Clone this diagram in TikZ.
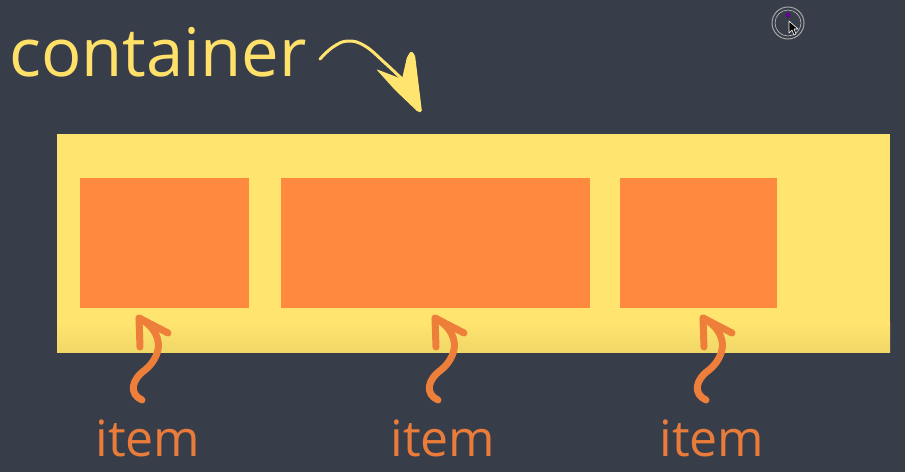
\documentclass[tikz,border=0pt]{standalone}
\usepackage{fontspec}
\setmainfont{Open Sans}
\definecolor{bgc}{HTML}{383D4A}
\definecolor{ylw}{HTML}{FFE46F}
\definecolor{ylwdark}{HTML}{F0D767}
\definecolor{org}{HTML}{FF8A3F}
\definecolor{orgline}{HTML}{EE7F3B}
\definecolor{orgtext}{HTML}{E97C3A}
\definecolor{ylwtext}{HTML}{FFE16A}
\tikzset{
  itembox/.style={fill=org, inner sep=0pt, minimum height=130pt},
  contbox/.style={fill=ylw, inner sep=0pt, minimum width=833pt, minimum height=218pt},
  itemlabel/.style={text=orgtext, font=\fontsize{50}{50}\selectfont, anchor=base, inner sep=0pt},
  contlabel/.style={text=ylwtext, font=\fontsize{67}{67}\selectfont, anchor=base west, inner sep=0pt},
  itemarrowline/.style={draw=orgline, line width=7pt, line cap=round, line join=round},
  pics/itemarrow/.style={code={
    \draw[itemarrowline] (3,82) .. controls (-10,76) and (-8,62) .. (6,52)
       .. controls (16,44) and (21,32) .. (19,23)
       .. controls (17,12) and (8,4) .. (0,0);
    \draw[itemarrowline] (29,15) -- (0,0) -- (1,29);
  }}
}
\begin{document}
\begin{tikzpicture}[x=1pt, y=-1pt]
\useasboundingbox (0,0) rectangle (905,472);
\fill[bgc] (0,0) rectangle (905,472);
% container
\node[contbox] (cont) at (473.5,243) {};
\shade[top color=ylw, bottom color=ylwdark] (57,322) rectangle (890,352);
% items
\node[itembox, minimum width=169pt] (it1) at (164.5,243) {};
\node[itembox, minimum width=309pt] (it2) at (435.5,243) {};
\node[itembox, minimum width=157pt] (it3) at (698.5,243) {};
% labels
\node[contlabel] (clabel) at (9,76) {container};
\node[itemlabel] (l1) at (148,456) {item};
\node[itemlabel] (l2) at (443,456) {item};
\node[itemlabel] (l3) at (712,456) {item};
% container arrow
\coordinate (cstart) at (320,59);
\coordinate (ctip) at (422,112);
\draw[ylw, line width=3pt, line cap=round] plot[smooth, tension=0.7] coordinates {(cstart) (333,47) (348,41) (365,46) (385,63) (402,79)};
\fill[ylw, rounded corners=1.5pt] (376,69) -- (402,79) -- (407,57) -- (411,51) -- (415,55) -- (ctip) -- (418,112) -- (395,90) -- cycle;
% item arrows
\coordinate (t1) at (139,318);
\coordinate (t2) at (435,318);
\coordinate (t3) at (703,318);
\pic at (t1) {itemarrow};
\pic at (t2) {itemarrow};
\pic at (t3) {itemarrow};
% cursor indicator
\node[circle, draw=gray!70, line width=1pt, minimum size=32pt, inner sep=0pt] (cur) at (788,23) {};
\draw[gray!50, line width=0.6pt] (cur.center) circle (13);
\fill[violet!80!blue] (788,15) circle (2.5);
\draw[white, fill=black, line width=0.6pt, line join=round] (789,21) -- (789,33) -- (792,30) -- (794,35) -- (796,34) -- (794,29) -- (798,29) -- cycle;
\end{tikzpicture}
\end{document}
